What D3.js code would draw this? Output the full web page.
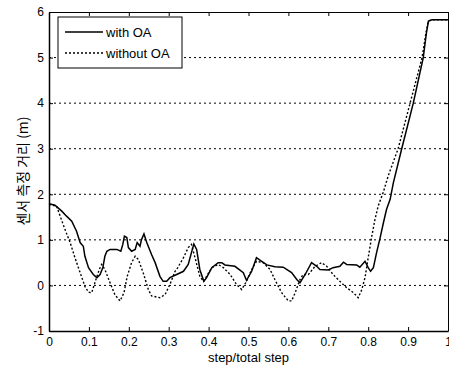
<!DOCTYPE html>
<html>
<head>
<meta charset="utf-8">
<script src="https://cdn.jsdelivr.net/npm/d3@7"></script>
<style>
  body { margin: 0; background: #fff; }
  svg { display: block; font-family: "Liberation Sans", Arial, sans-serif; }
</style>
</head>
<body>
<svg id="chart"></svg>
<script>
// with OA
const stepWith = [0, .015, .032, .044, .057, .069, .078, .086, .09, .099, .111, .12, .128, .135, .14, .145, .153, .17, .18, .185, .189, .195, .199, .207, .216, .221, .228, .232, .238, .245, .257, .266, .278, .286, .295, .303, .32, .337, .349, .357, .363, .37, .378, .388, .395, .408, .424, .433, .441, .466, .487, .495, .508, .52, .533, .546, .566, .587, .608, .621, .629, .642, .658, .671, .679, .7, .712, .729, .738, .746, .771, .779, .792, .8, .806, .813, .821, .83, .838, .846, .855, .863, .884, .913, .938, .946, .951, .96, 1];
const distWith = [1.79, 1.76, 1.63, 1.52, 1.41, 1.19, .94, .86, .64, .39, .24, .17, .24, .39, .64, .75, .79, .79, .75, .9, 1.08, 1.05, .83, .75, .79, .94, .86, 1.01, 1.13, .94, .68, .5, .2, .09, .09, .17, .24, .31, .46, .72, .91, .79, .35, .09, .17, .39, .5, .5, .45, .42, .28, .11, .31, .61, .53, .45, .41, .4, .28, .13, .06, .24, .5, .42, .35, .34, .39, .42, .51, .46, .45, .4, .53, .39, .31, .39, .72, 1.05, 1.37, 1.67, 1.89, 2.25, 3, 4, 5, 5.55, 5.8, 5.83, 5.83];

// without OA
const stepWithout = [0, .019, .028, .04, .053, .065, .078, .09, .099, .107, .115, .126, .132, .14, .153, .165, .178, .188, .196, .207, .216, .224, .236, .249, .257, .278, .291, .303, .316, .32, .337, .349, .357, .366, .378, .387, .395, .408, .424, .437, .454, .47, .483, .495, .508, .52, .537, .554, .566, .583, .6, .608, .617, .629, .637, .65, .667, .683, .696, .712, .729, .746, .763, .775, .784, .792, .8, .809, .817, .825, .838, .85, .875, .905, .935, .945, .951, .96, 1];
const distWithout = [1.78, 1.74, 1.52, 1.23, .94, .61, .28, -.02, -.15, -.16, .06, .35, .46, .35, .06, -.2, -.34, -.16, .2, .5, .64, .57, .28, -.09, -.23, -.27, -.2, .02, .31, .35, .61, .83, .9, .61, .2, .09, .2, .39, .46, .39, .24, .02, -.09, .09, .35, .53, .5, .35, .13, -.16, -.34, -.34, -.16, .13, .24, .24, .42, .5, .42, .24, .09, -.05, -.16, -.27, -.09, .17, .61, 1.08, 1.45, 1.74, 2.05, 2.4, 3, 4, 5, 5.55, 5.8, 5.83, 5.83];

const xTicks = [0, .1, .2, .3, .4, .5, .6, .7, .8, .9, 1];
const yTicks = [-1, 0, 1, 2, 3, 4, 5, 6];
const seriesNames = ["with OA", "without OA"];

const width = 449, height = 369;
const margin = { left: 49, right: 1, top: 12, bottom: 38 };

const svg = d3.select("#chart").attr("width", width).attr("height", height);

const x = d3.scaleLinear().domain([0, 1]).range([margin.left, width - margin.right]);
const y = d3.scaleLinear().domain([-1, 6]).range([height - margin.bottom, margin.top]);

// horizontal dotted grid
svg.append("g")
  .selectAll("line")
  .data(yTicks.filter(d => d > -1 && d < 6))
  .join("line")
  .attr("x1", x(0)).attr("x2", x(1))
  .attr("y1", d => y(d)).attr("y2", d => y(d))
  .attr("stroke", "#000")
  .attr("stroke-width", 1)
  .attr("stroke-dasharray", "2,3");

const line = d3.line().x(d => x(d[0])).y(d => y(d[1]));

svg.append("path")
  .datum(d3.zip(stepWithout, distWithout))
  .attr("d", line)
  .attr("fill", "none")
  .attr("stroke", "#000")
  .attr("stroke-width", 1.4)
  .attr("stroke-dasharray", "2,2");

svg.append("path")
  .datum(d3.zip(stepWith, distWith))
  .attr("d", line)
  .attr("fill", "none")
  .attr("stroke", "#000")
  .attr("stroke-width", 1.5);

// axes
const fmt = d => String(d);
svg.append("g")
  .attr("transform", `translate(0,${y(-1)})`)
  .call(d3.axisBottom(x).tickValues(xTicks).tickSizeInner(-4).tickSizeOuter(0).tickPadding(6).tickFormat(fmt))
  .call(g => g.selectAll("text").attr("font-size", 12).attr("font-family", "Liberation Sans, Arial, sans-serif"))
  .call(g => g.select(".domain").attr("stroke-width", 1.5));

svg.append("g")
  .attr("transform", `translate(0,${y(6)})`)
  .call(d3.axisTop(x).tickValues(xTicks).tickSizeInner(-4).tickSizeOuter(0).tickFormat(""))
  .call(g => g.select(".domain").attr("stroke-width", 1.2));

svg.append("g")
  .attr("transform", `translate(${x(0)},0)`)
  .call(d3.axisLeft(y).tickValues(yTicks).tickSizeInner(-4).tickSizeOuter(0).tickPadding(5).tickFormat(fmt))
  .call(g => g.selectAll("text").attr("font-size", 12).attr("font-family", "Liberation Sans, Arial, sans-serif"))
  .call(g => g.select(".domain").attr("stroke-width", 1.5));

svg.append("g")
  .attr("transform", `translate(${x(1)},0)`)
  .call(d3.axisRight(y).tickValues(yTicks).tickSizeInner(-4).tickSizeOuter(0).tickFormat(""));

// axis titles
svg.append("text")
  .attr("x", x(0.5)).attr("y", 362)
  .attr("text-anchor", "middle")
  .attr("font-size", 13)
  .text("step/total step");

svg.append("text")
  .attr("transform", `translate(28,171) rotate(-90)`)
  .attr("text-anchor", "middle")
  .attr("font-size", 14)
  .attr("font-family", "Noto Sans CJK KR, sans-serif")
  .text("센서 측정 거리 (m)");

// legend
const legend = svg.append("g").attr("transform", "translate(58,17)");
legend.append("rect")
  .attr("width", 124).attr("height", 51)
  .attr("fill", "#fff").attr("stroke", "#000").attr("stroke-width", 1);
legend.selectAll("line")
  .data(seriesNames)
  .join("line")
  .attr("x1", 7).attr("x2", 45)
  .attr("y1", (d, i) => 15 + i * 21).attr("y2", (d, i) => 15 + i * 21)
  .attr("stroke", "#000")
  .attr("stroke-width", 1.3)
  .attr("stroke-dasharray", (d, i) => i ? "2,2" : null);
legend.selectAll("text")
  .data(seriesNames)
  .join("text")
  .attr("x", 48)
  .attr("y", (d, i) => 19.5 + i * 21)
  .attr("font-size", 13)
  .text(d => d);
</script>
</body>
</html>
